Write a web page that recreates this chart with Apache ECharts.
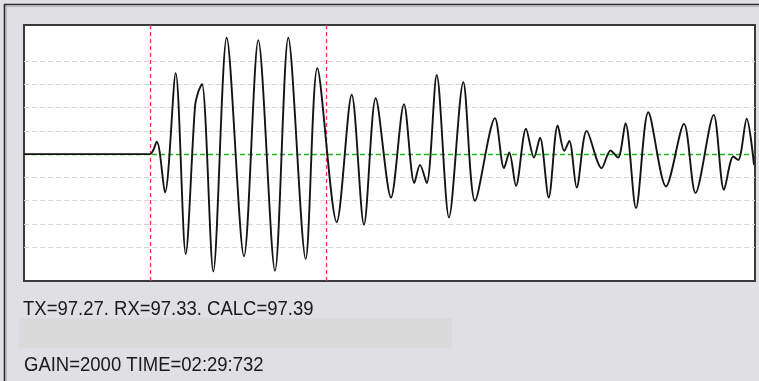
<!DOCTYPE html>
<html>
<head>
<meta charset="utf-8">
<script src="https://cdn.jsdelivr.net/npm/echarts@6/dist/echarts.min.js"></script>
<style>
  html, body { margin: 0; padding: 0; background: #e0e0e4; }
  #chart { width: 759px; height: 381px; }
</style>
</head>
<body>
<div id="chart"></div>
<script>
// Received waveform: sample position and amplitude (in grid divisions)
const samplePos = [0, 125.5, 132.7, 141, 151.7, 161.7, 171, 174.3, 178, 189.3, 202.7, 220, 234.3, 251, 264.3,
  281.7, 293.3, 312.7, 327.7, 340, 351.7, 367, 380, 390.3, 396, 402.7, 412.7, 425, 439.3, 451,
  471, 480, 485.3, 492, 502, 510, 516, 524.7, 533.7, 540.3, 545.3, 552.7, 562.7, 577.7, 586.5,
  594, 601.5, 612, 624.3, 642, 660, 671.5, 689.7, 700, 709.3, 714.3, 722.7, 730];
const amplitude = [0, 0, 0.54, -1.65, 3.48, -4.29, 2.04, 2.68, 3.02, -5.04, 5.0, -4.39, 4.9, -5.01, 5.0,
  -4.5, 3.69, -2.92, 2.55, -3.03, 2.4, -1.86, 2.15, -1.24, -0.46, -1.24, 3.4, -2.72, 3.09, -2.0,
  1.55, -0.6, 0.07, -1.36, 1.09, -0.15, 0.71, -1.86, 1.23, 0.14, 0.57, -1.43, 1.0, -0.6, 0.16,
  -0.15, 1.33, -2.32, 1.8, -1.39, 1.3, -1.67, 1.69, -1.53, -0.1, -0.25, 1.52, -0.46];

// Gate markers (TX / RX picks) and horizontal grid divisions
const gateMarkers = [126, 302.3];
const gridLevels = [-4, -3, -2, -1, 1, 2, 3, 4];

// Readout lines under the trace
const readoutLines = ['TX=97.27. RX=97.33. CALC=97.39', 'GAIN=2000 TIME=02:29:732'];

const waveData = samplePos.map((x, i) => [x, amplitude[i]]);

const chart = echarts.init(document.getElementById('chart'), null, { renderer: 'canvas' });

const textFont = '18.5px "Liberation Sans", Arial, sans-serif';

chart.setOption({
  backgroundColor: '#e0e0e4',
  animation: false,
  grid: {
    left: 24, top: 25, width: 731, height: 256,
    show: true, backgroundColor: '#ffffff', borderColor: '#3a3a3a', borderWidth: 2
  },
  xAxis: { type: 'value', min: 0, max: 731, show: false },
  yAxis: { type: 'value', min: -5.45, max: 5.55, show: false },
  graphic: [
    // window frame
    { type: 'line', shape: { x1: 4, y1: 4.5, x2: 759, y2: 4.5 }, style: { stroke: '#2a2a2a', lineWidth: 1.6 }, silent: true },
    { type: 'line', shape: { x1: 4.5, y1: 4, x2: 4.5, y2: 381 }, style: { stroke: '#2a2a2a', lineWidth: 1.6 }, silent: true },
    { type: 'line', shape: { x1: 6, y1: 6.5, x2: 759, y2: 6.5 }, style: { stroke: '#b8b8bc', lineWidth: 1 }, silent: true },
    { type: 'line', shape: { x1: 6.5, y1: 6, x2: 6.5, y2: 381 }, style: { stroke: '#b8b8bc', lineWidth: 1 }, silent: true },
    // status band
    { type: 'rect', shape: { x: 19, y: 318, width: 433, height: 30 }, style: { fill: '#dadada' }, silent: true },
    { type: 'text', x: 23, y: 299, scaleY: 1.12, style: { text: readoutLines[0], font: textFont, fill: '#1a1a1a' }, silent: true },
    { type: 'text', x: 24, y: 354, scaleY: 1.14, style: { text: readoutLines[1], font: textFont, fill: '#1a1a1a' }, silent: true }
  ],
  series: [
    {
      // dashed reference lines
      type: 'line',
      data: [],
      silent: true,
      markLine: {
        silent: true,
        symbol: 'none',
        label: { show: false },
        animation: false,
        data: gridLevels.map(v => ({ yAxis: v, lineStyle: { color: '#d6d6d6', type: [5, 3], width: 1 } }))
          .concat([{ yAxis: 0, lineStyle: { color: '#22b422', type: [5, 3], width: 1.3 } }])
          .concat(gateMarkers.map(v => ({ xAxis: v, lineStyle: { color: '#ff3434', type: [4, 3], width: 1.3 } })))
      }
    },
    {
      name: 'Signal',
      type: 'line',
      data: waveData,
      showSymbol: false,
      smooth: 0.3,
      z: 5,
      lineStyle: { color: '#141414', width: 1.9 }
    }
  ]
});
</script>
</body>
</html>
